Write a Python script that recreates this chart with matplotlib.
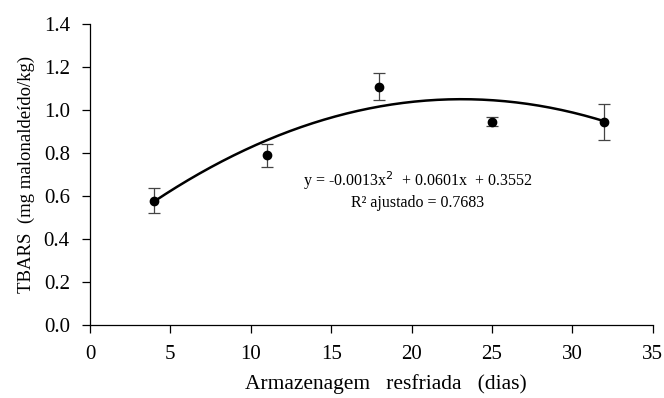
import numpy as np
import matplotlib.pyplot as plt

plt.rcParams['font.family'] = ['Liberation Serif', 'DejaVu Serif']

# data
dias = [4, 11, 18, 25, 32]
tbars = [0.578, 0.789, 1.108, 0.946, 0.944]
erro = [0.058, 0.053, 0.063, 0.022, 0.084]

# fitted quadratic from the chart equation
a, b, c = -0.0013, 0.0601, 0.3552

fig = plt.figure(figsize=(6.64, 3.98), dpi=100)
ax = fig.add_axes([0.1355, 0.1834, 0.8475, 0.7566])

xf = np.linspace(min(dias), max(dias), 200)
ax.plot(xf, a * xf**2 + b * xf + c, color='black', lw=1.8)
ax.errorbar(dias, tbars, yerr=erro, fmt='o', color='black', ms=6,
            ecolor='#444444', elinewidth=0.9, capsize=4, capthick=0.9)

ax.set_xlim(0, 35)
ax.set_ylim(0, 1.4)
ax.set_xticks(range(0, 36, 5))
ax.set_yticks(np.arange(0, 1.41, 0.2))
ax.set_yticklabels(['%.1f' % v for v in np.arange(0, 1.41, 0.2)])
ax.spines['top'].set_visible(False)
ax.spines['right'].set_visible(False)
ax.tick_params(labelsize=15, length=5.5, width=0.9, direction='out')
ax.tick_params(axis='y', pad=9)
ax.tick_params(axis='x', pad=9)
ax.spines['left'].set_linewidth(0.9)
ax.spines['bottom'].set_linewidth(0.9)

ax.set_xlabel('Armazenagem   resfriada   (dias)', fontsize=15.5)
ax.xaxis.set_label_coords(0.526, -0.163)
ax.set_ylabel('TBARS  (mg malonaldeído/kg)', fontsize=13.5, labelpad=6)

ax.text(0.583, 0.478, 'y = -0.0013x$^2$  + 0.0601x  + 0.3552', transform=ax.transAxes,
        ha='center', va='center', fontsize=11.5)
ax.text(0.583, 0.405, 'R² ajustado = 0.7683', transform=ax.transAxes,
        ha='center', va='center', fontsize=11.5)

fig.savefig('out.png', dpi=100)
